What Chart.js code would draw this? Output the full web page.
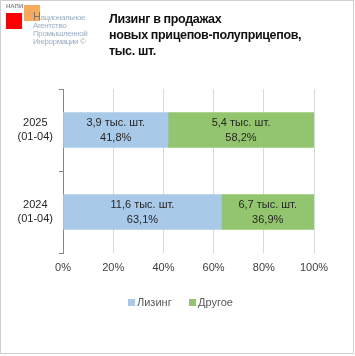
<!DOCTYPE html>
<html><head><meta charset="utf-8">
<script src="https://cdn.jsdelivr.net/npm/chart.js@4/dist/chart.umd.min.js"></script>
<style>
html,body{margin:0;padding:0;background:#fff;}
#wrap{position:relative;width:355px;height:356px;overflow:hidden;}
#frame{position:absolute;left:0;top:0;width:352px;height:352px;border:1px solid #cfcfcf;}
canvas{position:absolute;left:0;top:0;}
#title{position:absolute;left:109px;top:11px;font:bold 12.5px "Liberation Sans",Arial,sans-serif;letter-spacing:-0.35px;line-height:16px;color:#111;white-space:nowrap;}
#napi{position:absolute;left:6px;top:3px;font:bold 6px "Liberation Sans",Arial,sans-serif;color:#8a8a8a;}
#red{position:absolute;left:6px;top:13px;width:16px;height:16px;background:#ff0000;}
#orange{position:absolute;left:24px;top:5px;width:16px;height:16px;background:#f7a24a;opacity:0.9;}
#agency{position:absolute;left:33px;top:12px;font:8px "Liberation Sans Narrow","Liberation Sans",Arial,sans-serif;letter-spacing:-0.4px;line-height:8px;color:#9aaec4;white-space:nowrap;}
#agency b{font-weight:normal;color:#777;font-size:11px;}
</style></head>
<body><div id="wrap">
<canvas id="c" width="355" height="356"></canvas>
<div id="frame"></div>
<div id="napi">НАПИ</div><div id="red"></div><div id="orange"></div>
<div id="agency"><b>Н</b>ациональное<br>Агентство<br>Промышленной<br>Информации ©</div>
<div id="title">Лизинг в продажах<br>новых прицепов-полуприцепов,<br>тыс. шт.</div>
</div>
<script>
const categories = [['2025','(01-04)'], ['2024','(01-04)']];
const seriesNames = ['Лизинг', 'Другое'];
const leasingPct = [41.8, 63.1];
const otherPct = [58.2, 36.9];
const leasingCount = ['3,9', '11,6'];
const otherCount = ['5,4', '6,7'];
const xTicks = [0, 20, 40, 60, 80, 100];
const colors = ['#a9c9e9', '#93c56f'];

const counts = [leasingCount, otherCount];
const pcts = [leasingPct, otherPct];
const FONT = '"Liberation Sans", Arial, sans-serif';

const labelPlugin = {
  id: 'segLabels',
  afterDatasetsDraw(chart) {
    const ctx = chart.ctx;
    ctx.save();
    ctx.font = '11px ' + FONT;
    ctx.fillStyle = '#262626';
    ctx.textAlign = 'center';
    ctx.textBaseline = 'middle';
    chart.data.datasets.forEach((ds, di) => {
      chart.getDatasetMeta(di).data.forEach((bar, i) => {
        const cx = (bar.x + bar.base) / 2;
        ctx.fillText(counts[di][i] + ' тыс. шт.', cx, bar.y - 7);
        ctx.fillText(String(pcts[di][i]).replace('.', ',') + '%', cx, bar.y + 8);
      });
    });
    ctx.restore();
  }
};

const legendPlugin = {
  id: 'customLegend',
  afterDraw(chart) {
    const ctx = chart.ctx;
    ctx.save();
    ctx.font = '11px ' + FONT;
    ctx.textBaseline = 'middle';
    ctx.textAlign = 'left';
    const y = 303;
    const xs = [128, 189];
    chart.data.datasets.forEach((ds, i) => {
      ctx.fillStyle = ds.backgroundColor;
      ctx.fillRect(xs[i], y - 4, 7, 7);
      ctx.fillStyle = '#595959';
      ctx.fillText(ds.label, xs[i] + 9, y);
    });
    ctx.restore();
  }
};

new Chart(document.getElementById('c'), {
  type: 'bar',
  data: {
    labels: categories,
    datasets: [
      {label: seriesNames[0], data: leasingPct, backgroundColor: colors[0]},
      {label: seriesNames[1], data: otherPct, backgroundColor: colors[1]}
    ]
  },
  options: {
    indexAxis: 'y',
    responsive: false,
    animation: false,
    devicePixelRatio: 1,
    layout: {padding: {left: 0, right: 41, top: 89, bottom: 0}},
    plugins: {legend: {display: false}, tooltip: {enabled: false}},
    datasets: {bar: {barThickness: 35, borderWidth: 0}},
    scales: {
      x: {
        stacked: true, min: 0, max: 100,
        afterBuildTicks(s) { s.ticks = xTicks.map(v => ({value: v})); },
        afterFit(s) { s.height = 103; },
        grid: {color: '#d5dae3', drawTicks: false, lineWidth: 1},
        border: {display: false},
        ticks: {padding: 8, color: '#404040', font: {family: FONT, size: 11}, callback: v => v + '%', maxRotation: 0}
      },
      y: {
        stacked: true,
        afterFit(s) { s.width = 63; },
        grid: {offset: true, drawOnChartArea: false, tickLength: 4, color: '#868686'},
        border: {display: true, color: '#868686'},
        ticks: {crossAlign: 'center', padding: 6, color: '#262626', font: {family: FONT, size: 11, lineHeight: 1.3}}
      }
    }
  },
  plugins: [labelPlugin, legendPlugin]
});
</script>
</body></html>
